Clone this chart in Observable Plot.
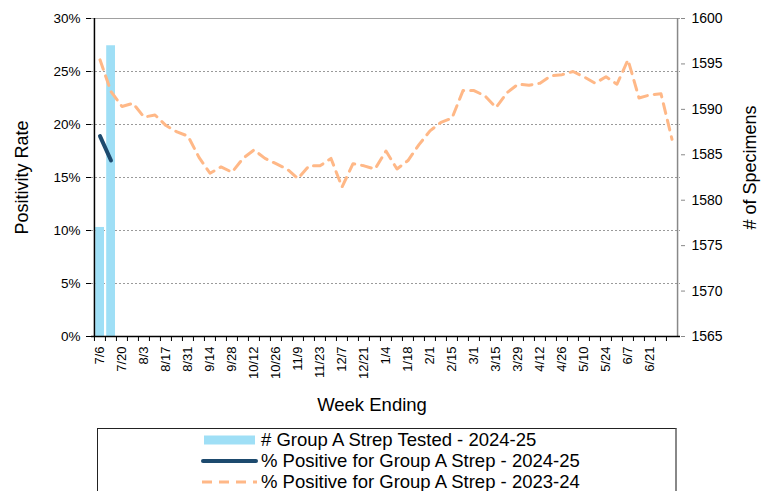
<!DOCTYPE html>
<html>
<head>
<meta charset="utf-8">
<script src="https://cdn.jsdelivr.net/npm/d3@7"></script>
<script src="https://cdn.jsdelivr.net/npm/@observablehq/plot@0.6"></script>
<style>
  html, body { margin: 0; padding: 0; background: white; }
  body { width: 770px; height: 491px; overflow: hidden; position: relative; font-family: "Liberation Sans", Arial, sans-serif; }
  #legend { position: absolute; left: 97px; top: 428px; width: 580px; height: 80px;
    border-top: 1px solid #222; border-left: 1px solid #222; border-right: 2px solid #888; box-sizing: border-box; }
  .row { display: flex; align-items: center; height: 21px; padding-left: 103px; font-size: 18.5px; color: #000; white-space: nowrap; }
  .row svg { margin-right: 3px; }
</style>
</head>
<body>
<div id="chart"></div>
<div id="legend"></div>
<script>
// Categories: week ending dates
const weeks = ["7/6","7/13","7/20","7/27","8/3","8/10","8/17","8/24","8/31","9/7","9/14","9/21","9/28","10/5","10/12","10/19","10/26","11/2","11/9","11/16","11/23","11/30","12/7","12/14","12/21","12/28","1/4","1/11","1/18","1/25","2/1","2/8","2/15","2/22","3/1","3/8","3/15","3/22","3/29","4/5","4/12","4/19","4/26","5/3","5/10","5/17","5/24","5/31","6/7","6/14","6/21","6/28","7/5"];
// Tick labels shown on the x axis
const xTickLabels = ["7/6","7/20","8/3","8/17","8/31","9/14","9/28","10/12","10/26","11/9","11/23","12/7","12/21","1/4","1/18","2/1","2/15","3/1","3/15","3/29","4/12","4/26","5/10","5/24","6/7","6/21"];
// # Group A Strep Tested - 2024-25 (right axis)
const tested2425 = [1577, 1597];
// % Positive for Group A Strep - 2024-25
const pos2425 = [18.9, 16.6];
// % Positive for Group A Strep - 2023-24
const pos2324 = [26.1,23.1,21.7,22.0,20.7,20.9,19.9,19.3,18.9,16.9,
                 15.4,16.0,15.5,16.8,17.6,16.8,16.3,15.8,14.9,16.1,
                 16.1,16.8,14.1,16.3,16.1,15.8,17.5,15.8,16.6,18.1,
                 19.4,20.2,20.6,23.2,23.2,22.7,21.6,23.0,23.8,23.7,
                 23.9,24.6,24.7,25.0,24.5,23.9,24.5,23.8,26.1,22.5,
                 22.8,22.9,18.6];
// Axis ticks
const leftTicks = [0, 5, 10, 15, 20, 25, 30];
const rightTicks = [1565, 1570, 1575, 1580, 1585, 1590, 1595, 1600];
const gridTicks = [5, 10, 15, 20, 25];

const legendItems = [
  {label: "# Group A Strep Tested - 2024-25", kind: "bar"},
  {label: "% Positive for Group A Strep - 2024-25", kind: "line"},
  {label: "% Positive for Group A Strep - 2023-24", kind: "dash"}
];

const colBar = "#9fdff6", colDark = "#1d4a6e", colOrange = "#ffb887";

// right axis (1565–1600) mapped onto the left (0–30%) scale
const rMin = 1565, rMax = 1600, lMax = 30;
const toLeft = v => (v - rMin) / (rMax - rMin) * lMax;
const fromLeft = p => p / lMax * (rMax - rMin) + rMin;

const W = 770, H = 425, mL = 91, mR = 90, mT = 18, mB = 89;
const bw = (W - mL - mR) / weeks.length;

const plot = Plot.plot({
  width: W, height: H,
  marginLeft: mL, marginRight: mR, marginTop: mT, marginBottom: mB,
  style: {fontFamily: "'Liberation Sans', Arial, sans-serif", fontSize: "13px", color: "#000", background: "white"},
  x: {type: "band", domain: weeks, padding: 0},
  y: {domain: [0, 30]},
  marks: [
    Plot.gridY(gridTicks, {stroke: "#9a9a9a", strokeOpacity: 1, strokeDasharray: "2,2"}),
    Plot.ruleY([30], {stroke: "#a0a0a0"}),
    Plot.barY(tested2425, {x: (d, i) => weeks[i], y: d => toLeft(d), fill: colBar, insetLeft: 1.2, insetRight: 1}),
    Plot.lineY(pos2324, {x: (d, i) => weeks[i], y: d => d, stroke: colOrange, strokeWidth: 3, strokeDasharray: "10,7"}),
    Plot.lineY(pos2425, {x: (d, i) => weeks[i], y: d => d, stroke: colDark, strokeWidth: 4, strokeLinecap: "round"}),
    // axes
    Plot.axisY(leftTicks, {anchor: "left", tickFormat: d => d + "%", tickSize: 5, tickPadding: 6, fontSize: 13.5, label: null}),
    Plot.axisY(rightTicks.map(toLeft), {anchor: "right", tickFormat: d => String(Math.round(fromLeft(d))), tickSize: 4, tickPadding: 7, stroke: "#888", fill: "#000", fontSize: 14, label: null}),
    Plot.axisX(weeks, {anchor: "bottom", tickFormat: () => "", tickSize: 5, dx: -bw / 2, label: null}),
    Plot.axisX(xTickLabels, {anchor: "bottom", tickSize: 0, tickPadding: 10, tickRotate: -90, fontSize: 13, label: null}),
    Plot.ruleX([weeks[0]], {dx: -bw / 2, stroke: "#000", strokeWidth: 1.5}),
    Plot.ruleX([weeks[weeks.length - 1]], {dx: bw / 2, stroke: "#888", strokeWidth: 1.5}),
    Plot.ruleY([0], {stroke: "#000", strokeWidth: 1.5}),
    // axis titles
    Plot.text(["Positivity Rate"], {frameAnchor: "left", textAnchor: "middle", rotate: -90, dx: -69, fontSize: 18}),
    Plot.text(["# of Specimens"], {frameAnchor: "right", textAnchor: "middle", rotate: -90, dx: 70, dy: -10, fontSize: 18}),
    Plot.text(["Week Ending"], {frameAnchor: "bottom", dy: 74, dx: -14, fontSize: 18.5})
  ]
});
document.getElementById("chart").appendChild(plot);

// legend
const legend = d3.select("#legend");
legendItems.forEach(item => {
  const row = legend.append("div").attr("class", "row");
  const s = row.append("svg").attr("width", 57).attr("height", 12);
  if (item.kind === "bar") {
    s.append("rect").attr("x", 3).attr("y", 1.5).attr("width", 51).attr("height", 9).attr("fill", colBar);
  } else if (item.kind === "line") {
    s.append("line").attr("x1", 2).attr("x2", 55).attr("y1", 6).attr("y2", 6)
      .attr("stroke", colDark).attr("stroke-width", 4).attr("stroke-linecap", "round");
  } else {
    s.append("line").attr("x1", 1).attr("x2", 56).attr("y1", 6).attr("y2", 6)
      .attr("stroke", colOrange).attr("stroke-width", 3).attr("stroke-dasharray", "10,7");
  }
  row.append("span").text(item.label);
});
</script>
</body>
</html>
